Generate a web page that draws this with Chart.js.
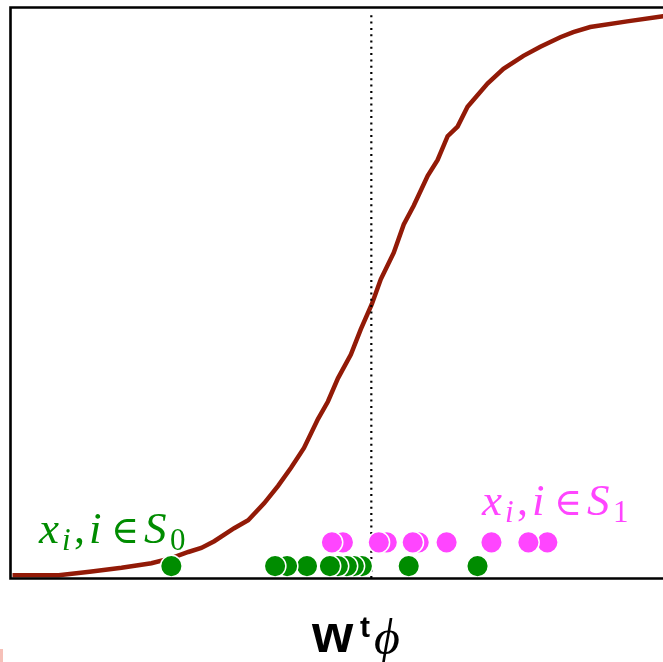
<!DOCTYPE html>
<html>
<head>
<meta charset="utf-8">
<script src="https://cdn.jsdelivr.net/npm/chart.js@4/dist/chart.umd.min.js"></script>
<style>
  html, body { margin: 0; padding: 0; background: #ffffff; overflow: hidden; }
  #wrap { width: 663px; height: 662px; overflow: hidden; position: relative; }
  canvas { display: block; }
</style>
</head>
<body>
<div id="wrap"><canvas id="c" width="690" height="662"></canvas></div>
<script>
// Logistic response sigma(w^t phi) sampled along the projection axis
const CURVE_X = [-6.0, -5.225, -4.708, -4.175, -3.675, -3.342, -3.058, -2.842, -2.625, -2.292,
                 -2.058, -1.792, -1.558, -1.342, -1.125, -0.892, -0.725, -0.558, -0.342, -0.175,
                 0.008, 0.158, 0.375, 0.542, 0.708, 0.942, 1.108, 1.275, 1.442, 1.608,
                 1.942, 2.208, 2.542, 2.825, 3.158, 3.375, 3.658, 4.275, 4.875, 5.0];
const CURVE_Y = [0.005, 0.005, 0.011, 0.018, 0.026, 0.035, 0.046, 0.053, 0.065, 0.088,
                 0.102, 0.132, 0.163, 0.195, 0.230, 0.281, 0.312, 0.353, 0.395, 0.440,
                 0.484, 0.528, 0.575, 0.625, 0.658, 0.711, 0.739, 0.781, 0.798, 0.833,
                 0.874, 0.900, 0.923, 0.939, 0.956, 0.965, 0.974, 0.984, 0.993, 0.994];

// Projected samples of each class (listed right to left so left ones sit on top)
const S0_X = [1.775, 0.625, -0.158, -0.292, -0.408, -0.558, -0.692, -1.075, -1.408, -1.608, -3.342];
const S1_X = [2.942, 2.625, 2.008, 1.258, 0.792, 0.692, 0.258, 0.125, -0.475, -0.658];
const S0_LEVEL = 0.021;
const S1_LEVEL = 0.063;

// Decision threshold
const THRESHOLD_X = 0;

const GREEN = '#008c00';
const PINK = '#ff45ff';
const CURVE_COLOR = '#921a07';

const curvePts = CURVE_X.map((x, i) => ({ x: x, y: CURVE_Y[i] }));
const s0Pts = S0_X.map(x => ({ x: x, y: S0_LEVEL }));
const s1Pts = S1_X.map(x => ({ x: x, y: S1_LEVEL }));

function drawPieces(ctx, x0, y0, pieces, color) {
  ctx.fillStyle = color;
  ctx.textBaseline = 'alphabetic';
  ctx.textAlign = 'left';
  pieces.forEach(p => {
    ctx.font = p.font;
    ctx.fillText(p.t, x0 + p.dx, y0 + (p.dy || 0));
  });
}

function setLabel(sub) {
  const it = "italic 45px 'Liberation Serif', 'DejaVu Serif', serif";
  const itSub = "italic 31px 'Liberation Serif', 'DejaVu Serif', serif";
  const up = "38px 'DejaVu Serif', 'Liberation Serif', serif";
  const upSub = "31px 'Liberation Serif', 'DejaVu Serif', serif";
  return [
    { t: 'x', font: it, dx: -1 },
    { t: 'i', font: itSub, dx: 22, dy: 7 },
    { t: ',', font: "44px 'Liberation Serif', serif", dx: 34 },
    { t: 'i', font: it, dx: 49 },
    { t: '\u2208', font: up, dx: 71 },
    { t: 'S', font: it, dx: 104 },
    { t: sub, font: upSub, dx: 130, dy: 7 }
  ];
}

const decorations = {
  id: 'decorations',
  afterDraw(chart) {
    const ctx = chart.ctx;
    const a = chart.chartArea;
    ctx.save();
    // frame: left, top and bottom edges
    ctx.strokeStyle = '#000000';
    ctx.lineWidth = 2.6;
    ctx.beginPath();
    ctx.moveTo(a.right + 5, 7.5);
    ctx.lineTo(10.5, 7.5);
    ctx.lineTo(10.5, 578.5);
    ctx.lineTo(a.right + 5, 578.5);
    ctx.stroke();

    // class labels
    drawPieces(ctx, 40, 543, setLabel('0'), GREEN);
    drawPieces(ctx, 483, 515, setLabel('1'), PINK);

    // axis label w^t phi
    drawPieces(ctx, 312, 652, [
      { t: 'w', font: "bold 53px 'Liberation Sans', Arial, sans-serif", dx: 0 },
      { t: 't', font: "bold 30px 'Liberation Sans', Arial, sans-serif", dx: 48, dy: -15 },
      { t: '\u03D5', font: "italic 50px 'Liberation Serif', 'DejaVu Serif', serif", dx: 62, dy: 2 }
    ], '#000000');

    // faint mark at the lower-left corner
    ctx.fillStyle = '#f6c0b8';
    ctx.fillRect(0, 649, 3, 13);
    ctx.restore();
  }
};

new Chart(document.getElementById('c'), {
  type: 'scatter',
  data: {
    datasets: [
      {
        label: 'S1',
        data: s1Pts,
        pointRadius: 10.8,
        pointHoverRadius: 10.8,
        backgroundColor: PINK,
        borderColor: '#ffffff',
        borderWidth: 1.5,
        showLine: false
      },
      {
        label: 'S0',
        data: s0Pts,
        pointRadius: 10.8,
        pointHoverRadius: 10.8,
        backgroundColor: GREEN,
        borderColor: '#ffffff',
        borderWidth: 1.5,
        showLine: false
      },
      {
        label: 'threshold',
        data: [{ x: THRESHOLD_X, y: 0 }, { x: THRESHOLD_X, y: 1 }],
        showLine: true,
        borderColor: '#000000',
        borderWidth: 2.2,
        borderDash: [2, 4.3],
        pointRadius: 0,
        fill: false
      },
      {
        label: 'sigmoid',
        data: curvePts,
        showLine: true,
        borderColor: CURVE_COLOR,
        borderWidth: 4.5,
        tension: 0,
        pointRadius: 0,
        fill: false
      }
    ]
  },
  options: {
    responsive: false,
    animation: false,
    devicePixelRatio: 1,
    layout: { padding: { left: 10.5, top: 8, right: 19.5, bottom: 84 } },
    plugins: { legend: { display: false }, tooltip: { enabled: false } },
    scales: {
      x: { type: 'linear', min: -6, max: 5, display: false },
      y: { type: 'linear', min: 0, max: 1, display: false }
    }
  },
  plugins: [decorations]
});
</script>
</body>
</html>
